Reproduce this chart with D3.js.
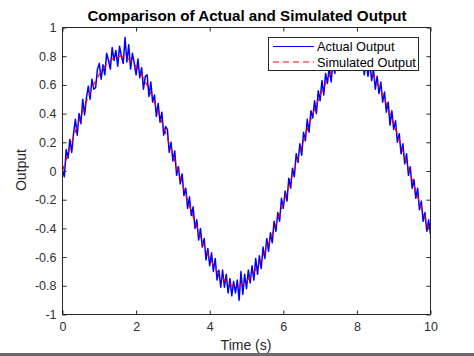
<!DOCTYPE html>
<html><head><meta charset="utf-8">
<script src="https://cdn.jsdelivr.net/npm/d3@7/dist/d3.min.js"></script>
<style>body{margin:0;background:#fff;}svg{display:block;font-family:"Liberation Sans",Arial,sans-serif;}</style>
</head><body><svg id="c" width="474" height="356"></svg>
<script>
const title = "Comparison of Actual and Simulated Output";
const xLabel = "Time (s)";
const yLabel = "Output";
const seriesNames = ["Actual Output", "Simulated Output"];
const xTicks = [0, 2, 4, 6, 8, 10];
const yTicks = [-1, -0.8, -0.6, -0.4, -0.2, 0, 0.2, 0.4, 0.6, 0.8, 1];
const actualStep = 0.05;
const actualValues = [
0.00,-0.04,0.15,0.09,0.22,0.13,0.26,0.36,0.25,0.40,
0.33,0.50,0.39,0.51,0.59,0.50,0.64,0.57,0.58,0.71,
0.75,0.64,0.74,0.67,0.82,0.77,0.71,0.86,0.77,0.84,
0.73,0.87,0.80,0.75,0.93,0.76,0.88,0.71,0.82,0.75,
0.67,0.78,0.65,0.72,0.57,0.66,0.67,0.52,0.62,0.48,
0.53,0.38,0.47,0.34,0.41,0.25,0.31,0.29,0.13,0.20,
0.07,0.14,-0.03,0.03,-0.09,-0.02,-0.17,-0.12,-0.26,-0.18,
-0.31,-0.25,-0.40,-0.34,-0.48,-0.40,-0.53,-0.47,-0.62,-0.54,
-0.66,-0.57,-0.70,-0.61,-0.76,-0.69,-0.81,-0.69,-0.81,-0.72,
-0.85,-0.75,-0.87,-0.77,-0.85,-0.76,-0.90,-0.70,-0.86,-0.72,
-0.82,-0.69,-0.78,-0.66,-0.76,-0.61,-0.72,-0.59,-0.68,-0.53,
-0.61,-0.47,-0.56,-0.43,-0.50,-0.35,-0.42,-0.29,-0.35,-0.19,
-0.26,-0.14,-0.21,-0.05,-0.12,0.02,-0.04,0.12,0.06,0.19,
0.11,0.27,0.21,0.36,0.27,0.42,0.37,0.49,0.40,0.56,
0.49,0.63,0.53,0.68,0.61,0.73,0.62,0.76,0.68,0.81,
0.70,0.83,0.74,0.85,0.73,0.86,0.76,0.87,0.74,0.85,
0.76,0.86,0.73,0.82,0.67,0.78,0.66,0.76,0.63,0.71,
0.57,0.66,0.54,0.62,0.48,0.55,0.41,0.48,0.32,0.42,
0.29,0.35,0.20,0.26,0.12,0.19,0.05,0.12,-0.03,0.03,
-0.12,-0.06,-0.19,-0.12,-0.27,-0.21,-0.35,-0.29,-0.42,-0.34,
-0.44];
const simStep = 0.2;
const simValues = [
0.000,0.159,0.312,0.452,0.574,0.673,0.746,0.788,0.800,0.779,
0.727,0.647,0.540,0.412,0.268,0.113,-0.047,-0.204,-0.354,-0.490,
-0.605,-0.697,-0.761,-0.795,-0.797,-0.767,-0.707,-0.618,-0.505,-0.372,
-0.224,-0.066,0.093,0.249,0.395,0.526,0.635,0.719,0.774,0.799,
0.792,0.753,0.684,0.588,0.468,0.330,0.178,0.020,-0.139,-0.293,
-0.435];

const svg = d3.select("#c");
const L = 62.5, R = 430.5, T = 27.5, B = 314.5;
const x = d3.scaleLinear().domain([0, 10]).range([L, R]);
const y = d3.scaleLinear().domain([-1, 1]).range([B, T]);
const axisCol = "#262626";

svg.append("rect").attr("x", 0).attr("y", 0).attr("width", 474).attr("height", 356).attr("fill", "#fff");
svg.append("rect").attr("x", 0).attr("y", 353).attr("width", 474).attr("height", 3).attr("fill", "#6b6b6b");

svg.append("clipPath").attr("id", "pc").append("rect")
  .attr("x", L).attr("y", T).attr("width", R - L).attr("height", B - T);

const g = svg.append("g").attr("clip-path", "url(#pc)");
const actualData = actualValues.map((v, i) => [i * actualStep, v]);
const simData = simValues.map((v, i) => [i * simStep, v]);
const line = d3.line().x(d => x(d[0])).y(d => y(d[1]));
g.append("path").datum(actualData).attr("d", line)
  .attr("fill", "none").attr("stroke", "#0000ff").attr("stroke-width", 1.5).attr("stroke-linejoin", "round");
g.append("path").datum(simData).attr("d", line.curve(d3.curveNatural))
  .attr("fill", "none").attr("stroke", "#ff0000").attr("stroke-width", 1.2).attr("stroke-dasharray", "6,4");

const fmt = d => String(d);
const ax = svg.append("g").attr("transform", `translate(0,${B})`)
  .call(d3.axisBottom(x).tickValues(xTicks).tickSize(-4).tickPadding(8).tickFormat(fmt));
const axT = svg.append("g").attr("transform", `translate(0,${T})`)
  .call(d3.axisTop(x).tickValues(xTicks).tickSize(-4).tickFormat(""));
const ay = svg.append("g").attr("transform", `translate(${L},0)`)
  .call(d3.axisLeft(y).tickValues(yTicks).tickSize(-4).tickPadding(6).tickFormat(fmt));
const ayR = svg.append("g").attr("transform", `translate(${R},0)`)
  .call(d3.axisRight(y).tickValues(yTicks).tickSize(-4).tickFormat(""));
[ax, axT, ay, ayR].forEach(a => {
  a.select(".domain").attr("stroke", axisCol).attr("stroke-width", 1);
  a.selectAll(".tick line").attr("stroke", axisCol);
  a.selectAll(".tick text").attr("fill", "#303030").attr("font-size", 12.5)
    .attr("font-family", "Liberation Sans, Arial, sans-serif");
});
ax.selectAll(".domain").attr("d", `M${L},0H${R}`);
axT.selectAll(".domain").attr("d", `M${L},0H${R}`);
ay.selectAll(".domain").attr("d", `M0,${B}V${T}`);
ayR.selectAll(".domain").attr("d", `M0,${B}V${T}`);

svg.append("text").attr("x", 247).attr("y", 21).attr("text-anchor", "middle")
  .attr("font-weight", "bold").attr("font-size", 15.2).attr("fill", "#000").text(title);
svg.append("text").attr("x", 246).attr("y", 350).attr("text-anchor", "middle")
  .attr("font-size", 14).attr("fill", "#262626").text(xLabel);
svg.append("text").attr("transform", "translate(26,170) rotate(-90)").attr("text-anchor", "middle")
  .attr("font-size", 14).attr("fill", "#262626").text(yLabel);

const lg = svg.append("g");
lg.append("rect").attr("x", 268.5).attr("y", 37.5).attr("width", 150).attr("height", 33)
  .attr("fill", "#fff").attr("stroke", axisCol).attr("stroke-width", 1);
const lc = ["#0000ff", "#ff0000"], ld = [null, "6,4"];
seriesNames.forEach((n, i) => {
  const yy = 46.5 + i * 15.5;
  lg.append("line").attr("x1", 273).attr("x2", 314).attr("y1", yy).attr("y2", yy)
    .attr("stroke", lc[i]).attr("stroke-width", 1.2).attr("stroke-dasharray", ld[i]);
  lg.append("text").attr("x", 317).attr("y", yy + 4.5).attr("font-size", 12.8)
    .attr("fill", "#000").text(n);
});
</script></body></html>
